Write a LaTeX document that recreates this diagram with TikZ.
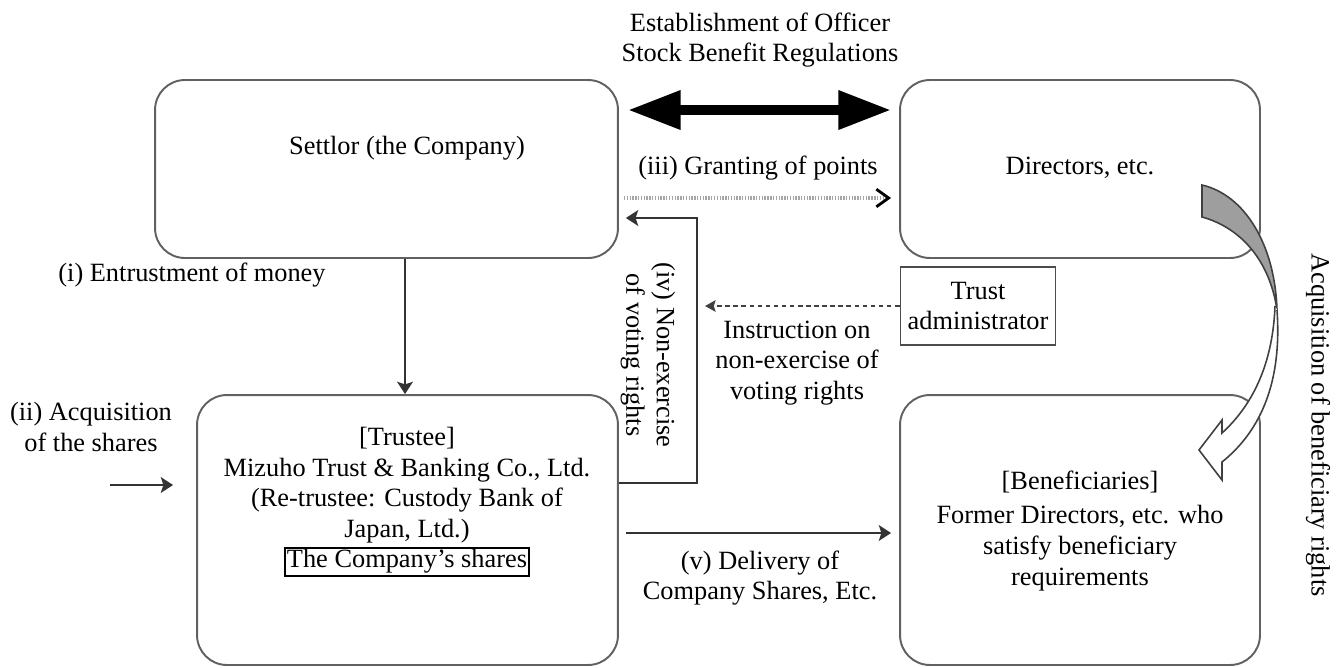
\documentclass[tikz,border=0pt]{standalone}
\usepackage{fontspec}
\setmainfont{Liberation Serif}
\usetikzlibrary{arrows.meta}
\begin{document}
\begin{tikzpicture}[x=0.02cm,y=-0.02cm,
  every node/.style={font=\fontsize{15pt}{17.4pt}\selectfont, align=center, inner sep=0pt},
  bigbox/.style={draw=black!62, line width=1.1pt, rounded corners=17pt},
  adminbox/.style={draw=black!70, line width=1.1pt, inner sep=2pt},
  conn/.style={draw=black!80, line width=1.1pt, -{Stealth[length=7pt,width=9pt,inset=1.5pt]}},
  dashconn/.style={draw=black!75, line width=1.1pt, dash pattern=on 2.6pt off 2pt, -{Stealth[length=6pt,width=6.5pt,inset=1pt]}},
  dotconn/.style={draw=black!35, line width=2pt, dash pattern=on 0.8pt off 0.8pt, -{Straight Barb[color=black,length=7pt,width=10pt,line width=1.6pt]}},
  bigarrow/.style={line width=5.7pt, {Triangle[length=30pt,width=21pt]}-{Triangle[length=30pt,width=21pt]}}
]
\useasboundingbox (0,0) rectangle (1340,667);

% boxes
\node[bigbox, minimum width=9.26cm, minimum height=3.56cm] (settlor) at (386.5,169) {};
\node[bigbox, minimum width=7.2cm, minimum height=3.56cm] (directors) at (1080,169) {};
\node[bigbox, minimum width=8.42cm, minimum height=5.4cm] (trustee) at (407.5,530) {};
\node[bigbox, minimum width=7.2cm, minimum height=5.4cm] (benef) at (1080,530) {};
\node[adminbox, minimum width=3.1cm, minimum height=1.56cm] (admin) at (978,306) {Trust\\administrator};

% box texts
\node (settlortxt) at (407,148) {Settlor (the Company)};
\node (directorstxt) at (1080,168) {Directors, etc.};
\node (trusteetxt) at (407,502) {[Trustee]\\Mizuho Trust \& Banking Co., Ltd.\\(Re-trustee: Custody Bank of\\Japan, Ltd.)\\{\setlength{\fboxsep}{0.6pt}\setlength{\fboxrule}{1.1pt}\fbox{The Company’s shares}}};
\node (beneftxt) at (1080,531) {[Beneficiaries]\\[2pt]Former Directors, etc. who\\satisfy beneficiary\\requirements};

% labels
\node (estab) at (760,40) {Establishment of Officer\\Stock Benefit Regulations};
\node (granting) at (758,168) {(iii) Granting of points};
\node (entrust) at (192,275) {(i) Entrustment of money};
\node (acqsh) at (91,427) {(ii) Acquisition\\of the shares};
\node[rotate=-90] (nonex) at (648,355) {(iv) Non-exercise\\of voting rights};
\node (instr) at (797,363) {Instruction on\\non-exercise of\\voting rights};
\node (delivery) at (760,578) {(v) Delivery of\\Company Shares, Etc.};
\node[rotate=-90] (acqben) at (1318,425) {Acquisition of beneficiary rights};

% connectors
\draw[bigarrow] ([xshift=0.18cm,yshift=1.18cm]settlor.east) -- ([xshift=-0.16cm,yshift=1.18cm]directors.west);
\draw[dotconn] ([xshift=0.1cm,yshift=-0.58cm]settlor.east) -- ([xshift=-0.16cm,yshift=-0.58cm]directors.west);
\draw[conn] ([yshift=0.94cm]trustee.east) -- ++(1.56cm,0) |- ([xshift=0.14cm,yshift=-0.98cm]settlor.east);
\coordinate (instrEnd) at (705,306);
\draw[dashconn] (admin.west) -- (instrEnd);
\draw[conn] ([xshift=0.37cm]settlor.south) -- ([xshift=-0.05cm]trustee.north);
\coordinate (acqStart) at (110,485);
\draw[conn] (acqStart) -- ([xshift=-0.46cm,yshift=0.9cm]trustee.west);
\draw[conn] ([xshift=0.14cm,yshift=-0.06cm]trustee.east) -- ([xshift=-0.16cm,yshift=-0.06cm]benef.west);

% curved block arrow (acquisition of beneficiary rights)
\draw[black!75, line width=0.9pt, fill=black!38] (1202,185) .. controls (1245,195) and (1275,245) .. (1277,310)
   .. controls (1270,262) and (1242,228) .. (1202,217) -- cycle;
\draw[black!75, line width=0.9pt, fill=white, line join=miter] (1277,310)
   .. controls (1282,380) and (1262,430) .. (1222,462) -- (1222,480) -- (1199,450) -- (1222,420) -- (1222,433)
   .. controls (1255,403) and (1273,360) .. (1275,306);
\end{tikzpicture}
\end{document}
